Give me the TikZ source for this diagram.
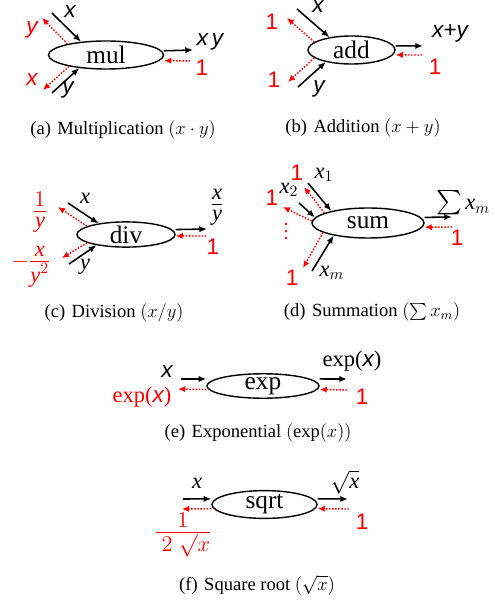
\documentclass[tikz,border=0pt]{standalone}
\usepackage{fix-cm}
\usepackage{amsmath}
\usepackage{fontspec}
\setmainfont{Liberation Serif}
\setsansfont{Liberation Sans}
\usetikzlibrary{shapes.geometric, arrows.meta}
\newcommand{\tvar}[1]{\text{\rmfamily\itshape #1}}
\newcommand{\flatfrac}[2]{\textstyle\frac{\displaystyle #1\rule[-2.5pt]{0pt}{2.5pt}}{\displaystyle\rule{0pt}{10.5pt}#2}}
\begin{document}
\begin{tikzpicture}[x=0.025cm, y=-0.025cm,
        op/.style={ellipse, draw, line width=1pt, inner sep=0pt, font=\fontsize{18}{20}\selectfont},
        fw/.style={-{Latex[length=5.5pt,width=4.5pt]}, line width=1.1pt},
        bw/.style={-{Latex[length=5pt,width=4.5pt]}, red, line width=1pt, dash pattern=on 1.1pt off 1.1pt},
        lb/.style={inner sep=0pt, font=\fontsize{16}{18}\selectfont\sffamily\itshape},
        sl/.style={inner sep=0pt, font=\fontsize{16}{18}\selectfont\itshape},
        num/.style={inner sep=0pt, text=red, font=\fontsize{16}{18}\selectfont\sffamily},
        fr/.style={inner sep=0pt, font=\fontsize{16}{18}\selectfont},
        subcap/.style={inner sep=0pt, font=\fontsize{13.2}{15}\selectfont}]
    \useasboundingbox (0,0) rectangle (494,602);
    % (a) mul
    \node[op, minimum width=2.875cm, minimum height=0.7cm] (mul) at (106,55) {mul};
    \coordinate (a1) at (52,13);
    \coordinate (a2) at (42,18);
    \coordinate (a3) at (52,93);
    \coordinate (a4) at (43,90);
    \coordinate (a5) at (193,50);
    \coordinate (a6) at (190,61);
    \draw[fw] (a1) -- (mul.152);
    \draw[bw] (mul.164) -- (a2);
    \draw[fw] (a3) -- (mul.206);
    \draw[bw] (mul.197) -- (a4);
    \draw[fw] ([yshift=3pt]mul.east) -- (a5);
    \draw[bw] (a6) -- ([yshift=-4pt]mul.east);
    \node[lb] (ax) at (70,12) {x};
    \node[lb, text=red] (ay2) at (32,30) {y};
    \node[lb, text=red] (ax2) at (32,80) {x};
    \node[lb] (ay) at (68,90) {y};
    \node[lb] (axy) at (210,42) {x\,y};
    \node[num] (a1n) at (202,68) {1};
    \node[subcap] (capa) at (123,130) {(a)\hspace{0.35em}Multiplication $(x\cdot y)$};
    % (b) add
    \node[op, minimum width=2.175cm, minimum height=0.7cm] (add) at (351.5,50) {add};
    \coordinate (b1) at (297,9);
    \coordinate (b2) at (287,18);
    \coordinate (b3) at (298,87);
    \coordinate (b4) at (288,82);
    \coordinate (b5) at (423,46);
    \coordinate (b6) at (422,55);
    \draw[fw] (b1) -- (add.150);
    \draw[bw] (add.168) -- (b2);
    \draw[fw] (b3) -- (add.205);
    \draw[bw] (add.192) -- (b4);
    \draw[fw] ([yshift=3pt]add.east) -- (b5);
    \draw[bw] (b6) -- ([yshift=-3.5pt]add.east);
    \node[lb] (bx) at (318,7) {x};
    \node[num] (b1n) at (272,22) {1};
    \node[num] (b2n) at (274,80) {1};
    \node[lb] (by) at (319,89) {y};
    \node[lb] (bxy) at (450,33) {x+y};
    \node[num] (b3n) at (435,67) {1};
    \node[subcap] (capb) at (363,128) {(b)\hspace{0.35em}Addition $(x+y)$};
    % (c) div
    \node[op, minimum width=2.45cm, minimum height=0.625cm] (div) at (126,234.5) {div};
    \coordinate (c1) at (68,203);
    \coordinate (c2) at (58,207);
    \coordinate (c3) at (69,264);
    \coordinate (c4) at (62,258);
    \coordinate (c5) at (207,229);
    \coordinate (c6) at (206,236);
    \draw[fw] (c1) -- (div.158);
    \draw[bw] (div.168) -- (c2);
    \draw[fw] (c3) -- (div.200);
    \draw[bw] (div.192) -- (c4);
    \draw[fw] ([yshift=3.5pt]div.east) -- (c5);
    \draw[bw] (c6) -- ([yshift=-1pt]div.east);
    \node[sl] (cx) at (85,198) {x};
    \node[fr, text=red] (cdx) at (40,212) {$\flatfrac{1}{\tvar{y}}$};
    \node[fr, text=red] (cdy) at (31,267) {$-\flatfrac{\tvar{x}}{\tvar{y}^2}$};
    \node[sl] (cy) at (85,267) {y};
    \node[fr] (cxy) at (217,207) {$\flatfrac{\tvar{x}}{\tvar{y}}$};
    \node[num] (c1n) at (213,247) {1};
    \node[subcap] (capc) at (114,313) {(c)\hspace{0.35em}Division $(x/y)$};
    % (d) sum
    \node[op, minimum width=2.8cm, minimum height=0.75cm] (sum) at (368,223) {sum};
    \coordinate (d1) at (308,183);
    \coordinate (d2) at (304,187);
    \coordinate (d3) at (299,203);
    \coordinate (d4) at (283,207);
    \coordinate (d5) at (312,271);
    \coordinate (d6) at (303,268);
    \coordinate (d7) at (452,217);
    \coordinate (d8) at (452,227);
    \draw[fw] (d1) -- (sum.162);
    \draw[bw] (sum.167) -- (d2);
    \draw[fw] (d3) -- (sum.174);
    \draw[bw] (sum.178) -- (d4);
    \draw[fw] (d5) -- (sum.200);
    \draw[bw] (sum.192) -- (d6);
    \draw[fw] ([yshift=4pt]sum.east) -- (d7);
    \draw[bw] (d8) -- ([yshift=-3pt]sum.east);
    \node[sl] (dx1) at (324,175) {$\tvar{x}_1$};
    \node[num] (d1n) at (297,173) {1};
    \node[sl] (dx2) at (289,190) {$\tvar{x}_2$};
    \node[num] (d2n) at (272,198) {1};
    \foreach \yy in {224,231,238}
        \fill[red] (286,\yy) circle (1.3);
    \node[num] (d3n) at (292,278) {1};
    \node[sl] (dxm) at (332,273) {$\tvar{x}_m$};
    \node[sl] (dsum) at (463,203) {{\fontsize{19}{20}\selectfont$\sum$}\,$\tvar{x}_m$};
    \node[num] (d4n) at (457,238) {1};
    \node[subcap] (capd) at (372,312) {(d)\hspace{0.35em}Summation $(\sum x_m)$};
    % (e) exp
    \node[op, minimum width=2.8cm, minimum height=0.57cm] (exp) at (263,386) {exp};
    \coordinate (e1) at (181,379);
    \coordinate (e2) at (178,389);
    \coordinate (e3) at (347,379);
    \coordinate (e4) at (347,390);
    \draw[fw] (e1) -- ([yshift=5pt]exp.west);
    \draw[bw] ([yshift=-2.5pt]exp.west) -- (e2);
    \draw[fw] ([yshift=5pt]exp.east) -- (e3);
    \draw[bw] (e4) -- ([yshift=-2.5pt]exp.east);
    \node[lb] (ex) at (167,372) {x};
    \node[lb, text=red] (eexp) at (142,397) {{\rmfamily\upshape exp(}x{\rmfamily\upshape )}};
    \node[lb] (eout) at (352,361) {{\rmfamily\upshape exp(}x{\rmfamily\upshape )}};
    \node[num] (e1n) at (362,397) {1};
    \node[subcap] (cape) at (258,433) {(e)\hspace{0.35em}Exponential $(\exp(x))$};
    % (f) sqrt
    \node[op, minimum width=2.625cm, minimum height=0.625cm] (sqrt) at (264.5,504.5) {sqrt};
    \coordinate (f1) at (183,499);
    \coordinate (f2) at (182,509);
    \coordinate (f3) at (348,499);
    \coordinate (f4) at (349,509);
    \draw[fw] (f1) -- ([yshift=4pt]sqrt.west);
    \draw[bw] ([yshift=-3pt]sqrt.west) -- (f2);
    \draw[fw] ([yshift=4pt]sqrt.east) -- (f3);
    \draw[bw] (f4) -- ([yshift=-3pt]sqrt.east);
    \node[sl] (fx) at (197,483) {x};
    \node[fr, text=red] (fdx) at (183,535) {$\flatfrac{1}{\hspace{4pt}2\;\surd x}$};
    \node[fr] (fout) at (345,482) {$\sqrt{\tvar{x}}$};
    \node[num] (f1n) at (362,522) {1};
    \node[subcap] (capf) at (257,585) {(f)\hspace{0.35em}Square root $(\sqrt{x})$};
\end{tikzpicture}
\end{document}
